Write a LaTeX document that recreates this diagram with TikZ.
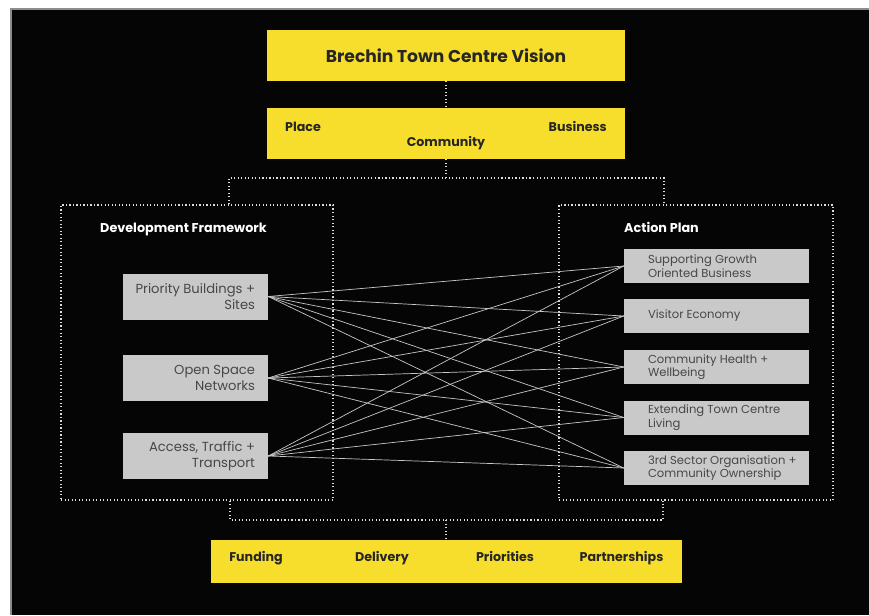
\documentclass[tikz,border=0pt]{standalone}
\usepackage{fontspec}
\setmainfont{Poppins}
\definecolor{vyellow}{HTML}{F8DE2C}
\definecolor{vgrey}{HTML}{C9C9C9}
\definecolor{vtext}{HTML}{474747}
\definecolor{vdots}{HTML}{DDDDDD}

\begin{document}
\begin{tikzpicture}[x=0.03cm, y=-0.03cm,
  yellowbox/.style={fill=vyellow, draw=none, font=\bfseries\fontsize{10.8}{12}\selectfont, text=black!85},
  label/.style={font=\bfseries\fontsize{10.8}{12}\selectfont, text=black!85, inner sep=0pt, anchor=base},
  leftbox/.style={fill=vgrey, draw=none, minimum width=4.35cm, minimum height=1.38cm},
  lefttext/.style={text=vtext, font=\fontsize{11.2}{13.5}\selectfont, inner sep=0pt, anchor=east, align=right},
  rightbox/.style={fill=vgrey, draw=none, minimum width=5.55cm, minimum height=1.02cm},
  righttext/.style={text=vtext, font=\fontsize{9.9}{11.5}\selectfont, inner sep=0pt, anchor=west, align=left},
  frame/.style={draw=vdots, dotted, line width=1pt, minimum width=#1, minimum height=8.85cm},
  dots/.style={draw=vdots, dotted, line width=1pt},
  link/.style={draw=black!22!white, line width=0.6pt},
  heading/.style={text=white, font=\bfseries\fontsize{10.9}{12}\selectfont, anchor=base west, inner sep=0pt}]
  \useasboundingbox (0,0) rectangle (869,615);
  \fill[white] (0,0) rectangle (869,615);
  \fill[black!45] (10,8) rectangle (869,615);
  \fill[black!98] (11.5,9.5) rectangle (869,615);

  \node[yellowbox, minimum width=10.71cm, minimum height=1.53cm, font=\bfseries\fontsize{14.6}{16}\selectfont] (vision) at (446,55.5) {Brechin Town Centre Vision};
  \node[yellowbox, minimum width=10.71cm, minimum height=1.53cm] (themes) at (446,133.5) {};
  \node[label, anchor=base west] (place) at (285,131) {Place};
  \node[label, anchor=base east] (business) at (607,131) {Business};
  \node[label] (community) at (446,146.5) {Community};
  \draw[dots] (vision) -- (themes);

  \node[frame=8.16cm] (devframe) at (197,352.5) {};
  \node[frame=8.22cm] (actframe) at (696,352.5) {};
  \node[heading] (devtitle) at (100,232) {Development Framework};
  \node[heading] (acttitle) at (624,232) {Action Plan};

  \coordinate (topmid) at (446,178);
  \coordinate (topleft) at (229,178);
  \coordinate (topright) at (664,178);
  \draw[dots] (themes) -- (topmid);
  \draw[dots] (topleft |- devframe.north) -- (topleft) -- (topright) -- (topright |- actframe.north);

  \foreach \i/\y/\txt in {1/296.5/{Priority Buildings +\\Sites},
                          2/378/{Open Space\\Networks},
                          3/456/{Access, Traffic +\\Transport}} {
    \node[leftbox] (dev\i) at (195.5,\y) {};
    \node[lefttext] (dev\i text) at ([xshift=-0.39cm]dev\i.east) {\txt};
  }

  \foreach \j/\y/\txt in {1/266/{Supporting Growth\\Oriented Business},
                          2/316/{Visitor Economy},
                          3/367/{Community Health +\\Wellbeing},
                          4/417.5/{Extending Town Centre\\Living},
                          5/468/{3rd Sector Organisation +\\Community Ownership}} {
    \node[rightbox] (act\j) at (716.5,\y) {};
    \node[righttext] (act\j text) at ([xshift=0.72cm]act\j.west) {\txt};
  }

  \foreach \i in {1,2,3}
    \foreach \j in {1,...,5}
      \draw[link] (dev\i.east) -- (act\j.west);

  \node[yellowbox, minimum width=14.13cm, minimum height=1.29cm] (delivery) at (446.5,561.5) {};
  \node[label] (funding) at (256,561.5) {Funding};
  \node[label] (deliv) at (382,561.5) {Delivery};
  \node[label] (prior) at (505,561.5) {Priorities};
  \node[label] (partner) at (621.5,561.5) {Partnerships};

  \coordinate (botmid) at (446,520);
  \coordinate (botleft) at (230,520);
  \coordinate (botright) at (663,520);
  \draw[dots] (botleft |- devframe.south) -- (botleft) -- (botright) -- (botright |- actframe.south);
  \draw[dots] (botmid) -- (delivery.north -| botmid);
\end{tikzpicture}
\end{document}
